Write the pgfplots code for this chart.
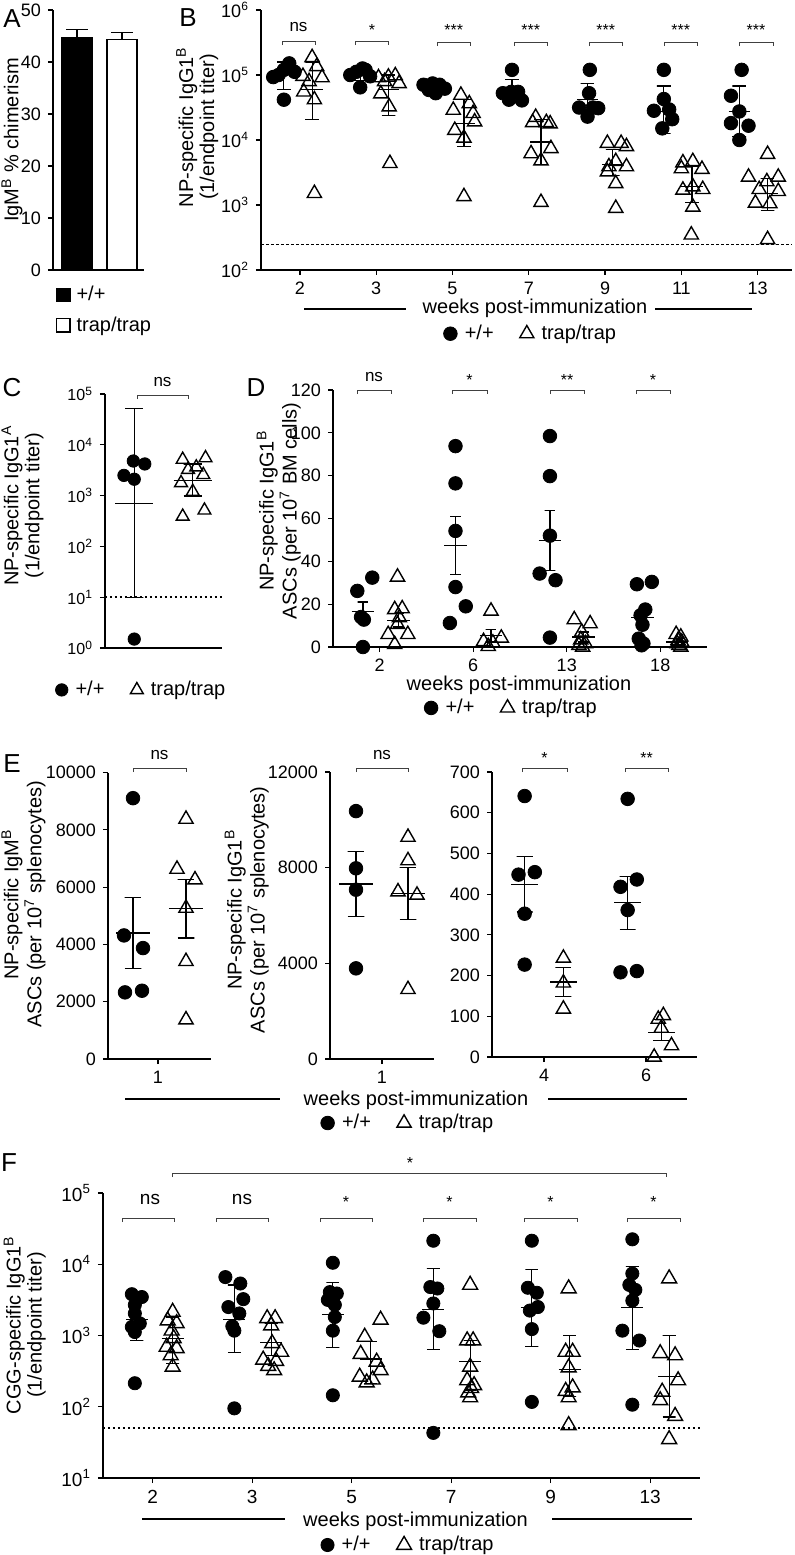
\documentclass[border=0pt]{standalone}
\usepackage{fontspec}
\setmainfont{Liberation Sans}
\usepackage{pgfplots}
\pgfplotsset{compat=1.18}
\newcommand\fs[1]{\fontsize{#1}{#1}\selectfont}
\pgfplotsset{
  panel/.style={scale only axis, anchor=north west, axis x line*=bottom, axis y line*=left,
    tick align=outside, major tick length=2.5pt, minor tick length=0pt,
    tick style={black, line width=0.6pt}, axis line style={black, line width=0.7pt},
    tick label style={font=\fs{9}}, label style={font=\fontsize{10}{10.5}\selectfont},
    ylabel style={align=center, anchor=center},
    /pgf/number format/assume math mode=true, /pgf/number format/1000 sep={},
    scaled ticks=false, clip=false, unbounded coords=jump, legend cell align=left},
  wt/.style={only marks, mark=*, mark size=3.4pt, black, mark options={fill=black}},
  tr/.style={only marks, mark=triangle, mark size=4.1pt, black, mark options={line width=0.7pt, fill=none}},
  eb/.style={black, line width=0.6pt, no marks, forget plot},
  lg/.style={legend columns=2, legend style={draw=none, fill=none, font=\fs{10}, anchor=center,
    /tikz/every odd column/.append style={column sep=1.8pt},
    /tikz/every even column/.append style={column sep=11pt}}},
}
\newcommand\brk[3]{\draw[line width=0.5pt, black!75] (#1,#3+4) -- (#1,#3) -- (#2,#3) -- (#2,#3+4);}
\begin{document}
\begin{tikzpicture}
% ---------------- A
\begin{axis}[panel, at={(26.5pt,-5pt)}, width=45.5pt, height=130pt,
  xmin=0.467, xmax=2.489, ymin=0, ymax=50, ytick={0,10,...,50}, xtick=\empty,
  ylabel={IgM\textsuperscript{B} \% chimerism},
  ylabel style={at={(axis description cs:-0.45,0.5)}},
  legend style={at={(axis description cs:-0.04,-0.03)}, anchor=north west, draw=none, fill=none,
    font=\fs{10}, row sep=2.5pt, /tikz/every odd column/.append style={column sep=1pt}}]
\addplot[ybar, bar width=15pt, bar shift=0pt, fill=black, draw=black, line width=0.6pt,
  legend image code/.code={\draw[black, fill=black, line width=0.6pt] (0pt,-3.3pt) rectangle (6.8pt,3.3pt);}]
  coordinates {(1,44.7)};
\addlegendentry{+/+}
\addplot[ybar, bar width=15pt, bar shift=0pt, fill=white, draw=black, line width=0.6pt,
  legend image code/.code={\draw[black, fill=white, line width=0.6pt] (0pt,-3.3pt) rectangle (6.8pt,3.3pt);}]
  coordinates {(2,44.4)};
\addlegendentry{trap/trap}
\addplot[eb] coordinates {(1,44.7)(1,46.2)(0.76,46.2)(1.24,46.2)(1,nan)(2,44.4)(2,45.6)(1.76,45.6)(2.24,45.6)};
\end{axis}
% ---------------- B
\begin{axis}[panel, ymode=log, at={(130.5pt,-5pt)}, width=265.5pt, height=130pt,
  xmin=-0.51, xmax=6.45, ymin=1e2, ymax=1e6,
  xtick={0,...,6}, xticklabels={2,3,5,7,9,11,13},
  ytick={1e2,1e3,1e4,1e5,1e6},
  yticklabels={10\textsuperscript{2},10\textsuperscript{3},10\textsuperscript{4},10\textsuperscript{5},10\textsuperscript{6}},
  ylabel={NP-specific IgG1\textsuperscript{B}\\(1/endpoint titer)},
  ylabel style={at={(axis description cs:-0.12,0.55)}},
  lg, legend style={at={(axis description cs:0.51,-0.245)}}]
\addplot[wt] coordinates {
(-0.28,100000)(-0.14,151000)(-0.21,120000)(-0.07,112000)(-0.35,93000)(-0.21,41700)
(0.66,100000)(0.74,112000)(0.82,126000)(0.92,95500)(0.79,64600)(0.86,120000)
(1.62,70800)(1.74,74100)(1.83,70800)(1.90,61700)(1.78,52500)(1.69,58900)
(2.78,120000)(2.66,52500)(2.77,55000)(2.86,55000)(2.74,41700)(2.91,40700)
(3.80,120000)(3.79,52500)(3.66,31600)(3.91,30900)(3.77,22900)(3.84,31600)
(4.77,120000)(4.77,42700)(4.64,28200)(4.84,29500)(4.88,20900)(4.75,15100)
(5.79,120000)(5.65,47900)(5.76,27500)(5.65,18200)(5.88,16600)(5.76,10000)};
\addlegendentry{+/+}
\addplot[tr] coordinates {
(0.16,186000)(0.04,95500)(0.29,91200)(0.05,55000)(0.19,41700)(0.22,135000)(0.12,79400)(0.19,1510)
(1.03,91200)(1.16,93300)(1.30,74100)(1.25,97700)(1.06,51300)(1.17,32400)(1.18,4370)(1.11,79400)
(2.11,49000)(2.01,28800)(2.22,36300)(2.27,25700)(2.29,19100)(2.03,14100)(2.15,10700)(2.15,1350)
(3.09,22400)(3.05,18600)(3.23,18600)(3.28,17800)(3.03,6170)(3.29,7410)(3.16,4790)(3.16,1100)
(4.03,8910)(4.21,8910)(4.28,7940)(4.14,4680)(4.05,3890)(4.28,3890)(4.03,3240)(4.14,2140)(4.14,891)
(5.02,4470)(5.15,4680)(5.27,3550)(5.00,3630)(5.02,1700)(5.28,1740)(5.15,1910)(5.15,933)(5.13,347)
(6.13,6030)(5.88,2690)(6.27,2690)(6.12,2290)(6.02,1740)(6.27,1620)(5.97,1070)(6.16,1050)(6.13,295)};
\addlegendentry{trap/trap}
\addplot[eb] coordinates {
(-0.30,60300)(-0.12,60300)(-0.21,60300)(-0.21,158000)(-0.30,158000)(-0.12,158000)(-0.21,nan)(-0.35,112000)(-0.07,112000)(-0.21,nan)
(0.70,83000)(0.88,83000)(0.79,83000)(0.79,120000)(0.70,120000)(0.88,120000)(0.79,nan)(0.65,100000)(0.93,100000)(0.79,nan)
(1.70,52500)(1.88,52500)(1.79,52500)(1.79,75900)(1.70,75900)(1.88,75900)(1.79,nan)(1.65,63100)(1.93,63100)(1.79,nan)
(2.69,39800)(2.87,39800)(2.78,39800)(2.78,85100)(2.69,85100)(2.87,85100)(2.78,nan)(2.64,53700)(2.92,53700)(2.78,nan)
(3.68,28200)(3.86,28200)(3.77,28200)(3.77,74100)(3.68,74100)(3.86,74100)(3.77,nan)(3.63,41700)(3.91,41700)(3.77,nan)
(4.68,12600)(4.86,12600)(4.77,12600)(4.77,67600)(4.68,67600)(4.86,67600)(4.77,nan)(4.63,27500)(4.91,27500)(4.77,nan)
(5.67,11200)(5.85,11200)(5.76,11200)(5.76,67600)(5.67,67600)(5.85,67600)(5.76,nan)(5.62,27500)(5.90,27500)(5.76,nan)
(0.07,20400)(0.25,20400)(0.16,20400)(0.16,158000)(0.07,158000)(0.25,158000)(0.16,nan)(0.02,60300)(0.30,60300)(0.16,nan)
(1.07,24000)(1.25,24000)(1.16,24000)(1.16,100000)(1.07,100000)(1.25,100000)(1.16,nan)(1.02,60300)(1.30,60300)(1.16,nan)
(2.06,7940)(2.24,7940)(2.15,7940)(2.15,41700)(2.06,41700)(2.24,41700)(2.15,nan)(2.01,18200)(2.29,18200)(2.15,nan)
(3.07,4170)(3.25,4170)(3.16,4170)(3.16,20400)(3.07,20400)(3.25,20400)(3.16,nan)(3.02,9330)(3.30,9330)(3.16,nan)
(4.01,2880)(4.19,2880)(4.10,2880)(4.10,7080)(4.01,7080)(4.19,7080)(4.10,nan)(3.96,4170)(4.24,4170)(4.10,nan)
(5.05,1100)(5.23,1100)(5.14,1100)(5.14,3890)(5.05,3890)(5.23,3890)(5.14,nan)(5.00,1910)(5.28,1910)(5.14,nan)
(6.04,832)(6.22,832)(6.13,832)(6.13,2570)(6.04,2570)(6.22,2570)(6.13,nan)(5.99,1510)(6.27,1510)(6.13,nan)};
\addplot[forget plot, black, line width=0.5pt, dash pattern=on 1.5pt off 1pt] coordinates {(-0.51,243)(6.45,243)};
\end{axis}
% ---------------- C
\begin{axis}[panel, ymode=log, at={(52.5pt,-197pt)}, width=58.5pt, height=127pt,
  xmin=0, xmax=1, ymin=1, ymax=1e5, xtick=\empty,
  ytick={1,10,100,1000,10000,100000},
  yticklabels={10\textsuperscript{0},10\textsuperscript{1},10\textsuperscript{2},10\textsuperscript{3},10\textsuperscript{4},10\textsuperscript{5}},
  tick label style={font=\fs{8}},
  ylabel={NP-specific IgG1\textsuperscript{A}\\(1/endpoint titer)},
  ylabel style={at={(axis description cs:-0.705,0.56)}},
  lg, legend style={at={(axis description cs:0.32,-0.165)}}]
\addplot[wt, mark size=3.1pt] coordinates {(0.242,4800)(0.34,4200)(0.162,2500)(0.25,2100)(0.25,1.5)};
\addlegendentry{+/+}
\addplot[tr, mark size=3.7pt] coordinates {(0.664,5130)(0.859,5500)(0.71,3240)(0.78,3630)(0.84,2570)(0.65,1780)(0.75,1200)(0.664,389)(0.85,513)};
\addlegendentry{trap/trap}
\addplot[forget plot, black, line width=1.1pt, dash pattern=on 1.2pt off 1.3pt] coordinates {(0,10)(1,10)};
\addplot[eb] coordinates {
(0.172,9.8)(0.328,9.8)(0.25,9.8)(0.25,51000)(0.172,51000)(0.328,51000)(0.25,nan)(0.086,690)(0.414,690)(0.25,nan)
(0.672,980)(0.828,980)(0.75,980)(0.75,4200)(0.672,4200)(0.828,4200)(0.75,nan)(0.586,2000)(0.914,2000)(0.75,nan)};
\end{axis}
% ---------------- D
\begin{axis}[panel, at={(166.5pt,-195pt)}, width=187pt, height=128.5pt,
  xmin=-0.5, xmax=3.5, ymin=0, ymax=120, ytick={0,20,...,120},
  xtick={0,1,2,3}, xticklabels={2,6,13,18},
  ylabel={NP-specific IgG1\textsuperscript{B}\\ASCs (per 10\textsuperscript{7} BM cells)},
  ylabel style={at={(axis description cs:-0.145,0.53)}},
  lg, legend style={at={(axis description cs:0.48,-0.237)}}]
\addplot[wt] coordinates {
(-0.24,26.2)(-0.08,32.4)(-0.20,14.0)(-0.17,12.8)(-0.18,0)
(0.81,93.8)(0.81,76.4)(0.81,54.2)(0.81,28.0)(0.92,19.0)(0.75,11.2)
(1.82,98.5)(1.82,79.8)(1.82,52.0)(1.71,34.3)(1.88,31.2)(1.82,4.4)
(2.75,29.3)(2.91,30.4)(2.84,17.5)(2.79,14.8)(2.81,10.4)(2.77,3.9)(2.82,1.6)(2.80,0.8)};
\addlegendentry{+/+}
\addplot[tr] coordinates {
(0.19,32.7)(0.16,17.5)(0.24,17.9)(0.19,10.6)(0.09,5.9)(0.30,5.9)(0.16,1.2)(0.21,13.7)
(1.19,16.8)(1.30,4.2)(1.11,2.6)(1.21,1.9)(1.16,0.3)
(2.08,12.8)(2.25,10.9)(2.16,7.0)(2.15,3.4)(2.20,1.6)(2.17,0)(2.13,0.8)
(3.17,5.9)(3.22,4.7)(3.19,3.1)(3.23,2.3)(3.20,0.8)(3.22,0)(3.18,1.6)};
\addlegendentry{trap/trap}
\addplot[eb] coordinates {
(-0.237,12.4)(-0.123,12.4)(-0.18,12.4)(-0.18,21)(-0.237,21)(-0.123,21)(-0.18,nan)(-0.30,16.7)(-0.06,16.7)(-0.18,nan)
(0.753,34)(0.867,34)(0.81,34)(0.81,60.8)(0.753,60.8)(0.867,60.8)(0.81,nan)(0.69,47.4)(0.93,47.4)(0.81,nan)
(1.763,35.8)(1.877,35.8)(1.82,35.8)(1.82,63.9)(1.763,63.9)(1.877,63.9)(1.82,nan)(1.70,49.9)(1.94,49.9)(1.82,nan)
(2.753,9.7)(2.867,9.7)(2.81,9.7)(2.81,17.5)(2.753,17.5)(2.867,17.5)(2.81,nan)(2.69,13.6)(2.93,13.6)(2.81,nan)
(0.143,9.3)(0.257,9.3)(0.20,9.3)(0.20,15.6)(0.143,15.6)(0.257,15.6)(0.20,nan)(0.08,12.5)(0.32,12.5)(0.20,nan)
(1.133,2.3)(1.247,2.3)(1.19,2.3)(1.19,8.3)(1.133,8.3)(1.247,8.3)(1.19,nan)(1.07,5.3)(1.31,5.3)(1.19,nan)
(2.123,2.3)(2.237,2.3)(2.18,2.3)(2.18,7)(2.123,7)(2.237,7)(2.18,nan)(2.06,4.7)(2.30,4.7)(2.18,nan)
(3.123,0.8)(3.237,0.8)(3.18,0.8)(3.18,3.9)(3.123,3.9)(3.237,3.9)(3.18,nan)(3.06,2.3)(3.30,2.3)(3.18,nan)};
\end{axis}
% ---------------- E1
\begin{axis}[panel, at={(54pt,-386.25pt)}, width=51.5pt, height=143.25pt,
  xmin=-0.5, xmax=0.53, ymin=0, ymax=10000, ytick={0,2000,...,10000},
  xtick={0}, xticklabels={1},
  ylabel={NP-specific IgM\textsuperscript{B}\\ASCs (per 10\textsuperscript{7} splenocytes)},
  ylabel style={at={(axis description cs:-0.82,0.54)}}]
\addplot[wt] coordinates {(-0.25,9105)(-0.34,4314)(-0.15,3872)(-0.33,2326)(-0.16,2384)};
\addplot[tr] coordinates {(0.28,8372)(0.19,6628)(0.37,6256)(0.28,5267)(0.28,3407)(0.28,1372)};
\addplot[eb] coordinates {
(-0.333,3151)(-0.167,3151)(-0.25,3151)(-0.25,5640)(-0.333,5640)(-0.167,5640)(-0.25,nan)(-0.42,4395)(-0.08,4395)(-0.25,nan)
(0.197,4221)(0.363,4221)(0.28,4221)(0.28,6279)(0.197,6279)(0.363,6279)(0.28,nan)(0.11,5267)(0.45,5267)(0.28,nan)};
\end{axis}
% ---------------- E2
\begin{axis}[panel, at={(165pt,-386pt)}, width=52pt, height=143.5pt,
  xmin=-0.52, xmax=0.52, ymin=0, ymax=12000, ytick={0,4000,8000,12000},
  xtick={0}, xticklabels={1},
  ylabel={NP-specific IgG1\textsuperscript{B}\\ASCs (per 10\textsuperscript{7} splenocytes)},
  ylabel style={at={(axis description cs:-0.80,0.52)}},
  lg, legend style={at={(axis description cs:0.76,-0.223)}}]
\addplot[wt] coordinates {(-0.26,10366)(-0.26,7974)(-0.26,7079)(-0.26,3791)};
\addlegendentry{+/+}
\addplot[tr] coordinates {(0.26,9275)(0.26,8296)(0.16,6995)(0.35,6855)(0.26,2910)};
\addlegendentry{trap/trap}
\addplot[eb] coordinates {
(-0.343,5960)(-0.177,5960)(-0.26,5960)(-0.26,8674)(-0.343,8674)(-0.177,8674)(-0.26,nan)(-0.43,7317)(-0.09,7317)(-0.26,nan)
(0.177,5820)(0.343,5820)(0.26,5820)(0.26,8016)(0.177,8016)(0.343,8016)(0.26,nan)(0.09,6925)(0.43,6925)(0.26,nan)};
\end{axis}
% ---------------- E3
\begin{axis}[panel, at={(246pt,-386pt)}, width=102.5pt, height=142.5pt,
  xmin=-0.51, xmax=1.5, ymin=0, ymax=700, ytick={0,100,...,700},
  xtick={0,1}, xticklabels={4,6}]
\addplot[wt] coordinates {(-0.19,641)(-0.25,448)(-0.09,454)(-0.19,352)(-0.19,227)
(0.82,634)(0.75,418)(0.91,436)(0.82,361)(0.75,208)(0.91,211)};
\addplot[tr] coordinates {(0.19,243)(0.19,182)(0.19,118)(1.17,102)(1.12,93)(1.15,71)(1.25,28)(1.08,0)};
\addplot[eb] coordinates {
(-0.268,356)(-0.112,356)(-0.19,356)(-0.19,492)(-0.268,492)(-0.112,492)(-0.19,nan)(-0.32,424)(-0.06,424)(-0.19,nan)
(0.742,313)(0.898,313)(0.82,313)(0.82,443)(0.742,443)(0.898,443)(0.82,nan)(0.69,379)(0.95,379)(0.82,nan)
(0.112,148)(0.268,148)(0.19,148)(0.19,219)(0.112,219)(0.268,219)(0.19,nan)(0.06,184)(0.32,184)(0.19,nan)
(1.072,40)(1.228,40)(1.15,40)(1.15,92)(1.072,92)(1.228,92)(1.15,nan)(1.02,61)(1.28,61)(1.15,nan)};
\end{axis}
% ---------------- F
\begin{axis}[panel, ymode=log, at={(51.5pt,-596.5pt)}, width=298.5pt, height=142.5pt,
  xmin=-0.5, xmax=5.5, ymin=10, ymax=1e5,
  xtick={0,...,5}, xticklabels={2,3,5,7,9,13},
  ytick={10,100,1000,10000,100000},
  yticklabels={10\textsuperscript{1},10\textsuperscript{2},10\textsuperscript{3},10\textsuperscript{4},10\textsuperscript{5}},
  tick label style={font=\fs{9.5}},
  ylabel={CGG-specific IgG1\textsuperscript{B}\\(1/endpoint titer)},
  ylabel style={at={(axis description cs:-0.131,0.537)}},
  lg, legend style={at={(axis description cs:0.513,-0.235)}}]
\addplot[wt, mark size=3.3pt] coordinates {
(-0.21,3800)(-0.11,3470)(-0.18,2690)(-0.18,2040)(-0.13,1480)(-0.21,1320)(-0.18,1120)(-0.18,214)
(0.73,6610)(0.88,5370)(0.91,3240)(0.76,2510)(0.87,2040)(0.80,1350)(0.82,1170)(0.82,95)
(1.81,10500)(1.78,4070)(1.85,3890)(1.76,3160)(1.83,2690)(1.83,1820)(1.81,1170)(1.81,145)
(2.82,21400)(2.79,4790)(2.86,4570)(2.82,2820)(2.72,1780)(2.88,1150)(2.82,43)
(3.81,21400)(3.77,4680)(3.86,3980)(3.79,2240)(3.87,2510)(3.81,1230)(3.81,117)
(4.82,22400)(4.82,7410)(4.79,5130)(4.85,4370)(4.82,3090)(4.72,1170)(4.89,851)(4.82,107)};
\addlegendentry{+/+}
\addplot[tr, mark size=4.3pt] coordinates {
(0.20,2140)(0.15,1620)(0.24,1480)(0.19,1170)(0.21,912)(0.14,692)(0.24,661)(0.18,525)(0.20,363)
(1.15,1740)(1.23,1740)(1.19,1380)(1.20,776)(1.29,589)(1.11,457)(1.24,437)(1.16,372)(1.22,324)
(2.13,955)(2.29,1660)(2.09,550)(2.25,427)(2.29,324)(2.08,263)(2.21,240)(2.15,219)
(3.19,5130)(3.16,851)(3.22,851)(3.19,363)(3.16,234)(3.23,200)(3.20,182)(3.17,158)(3.19,135)
(4.18,4570)(4.15,589)(4.22,589)(4.18,355)(4.22,186)(4.15,166)(4.18,135)(4.18,55)
(5.19,6310)(5.10,562)(5.25,525)(5.28,234)(5.12,162)(5.10,123)(5.25,74)(5.19,35)};
\addlegendentry{trap/trap}
\addplot[forget plot, black, line width=1.1pt, dash pattern=on 1.2pt off 1.3pt] coordinates {(-0.5,50)(5.5,50)};
\addplot[eb] coordinates {
(-0.225,850)(-0.095,850)(-0.16,850)(-0.16,3200)(-0.225,3200)(-0.095,3200)(-0.16,nan)(-0.27,1660)(-0.05,1660)(-0.16,nan)
(0.755,575)(0.885,575)(0.82,575)(0.82,5130)(0.755,5130)(0.885,5130)(0.82,nan)(0.71,1700)(0.93,1700)(0.82,nan)
(1.745,676)(1.875,676)(1.81,676)(1.81,5500)(1.745,5500)(1.875,5500)(1.81,nan)(1.70,1950)(1.92,1950)(1.81,nan)
(2.755,630)(2.885,630)(2.82,630)(2.82,8710)(2.755,8710)(2.885,8710)(2.82,nan)(2.71,2290)(2.93,2290)(2.82,nan)
(3.745,708)(3.875,708)(3.81,708)(3.81,8510)(3.745,8510)(3.875,8510)(3.81,nan)(3.70,2450)(3.92,2450)(3.81,nan)
(4.755,631)(4.885,631)(4.82,631)(4.82,9330)(4.755,9330)(4.885,9330)(4.82,nan)(4.71,2450)(4.93,2450)(4.82,nan)
(0.135,407)(0.265,407)(0.20,407)(0.20,1820)(0.135,1820)(0.265,1820)(0.20,nan)(0.09,910)(0.31,910)(0.20,nan)
(1.125,525)(1.255,525)(1.19,525)(1.19,1480)(1.125,1480)(1.255,1480)(1.19,nan)(1.08,794)(1.30,794)(1.19,nan)
(2.125,214)(2.255,214)(2.19,214)(2.19,832)(2.125,832)(2.255,832)(2.19,nan)(2.08,468)(2.30,468)(2.19,nan)
(3.125,170)(3.255,170)(3.19,170)(3.19,851)(3.125,851)(3.255,851)(3.19,nan)(3.08,437)(3.30,437)(3.19,nan)
(4.125,138)(4.255,138)(4.19,138)(4.19,1000)(4.125,1000)(4.255,1000)(4.19,nan)(4.08,331)(4.30,331)(4.19,nan)
(5.125,72)(5.255,72)(5.19,72)(5.19,1000)(5.125,1000)(5.255,1000)(5.19,nan)(5.08,269)(5.30,269)(5.19,nan)};
\end{axis}
% ---------------- decorations (pixel units)
\begin{scope}[x=0.5pt, y=-0.5pt]
\node[font=\fs{13}] at (12,19) {A};
\node[font=\fs{13}] at (188,18) {B};
\node[font=\fs{13}] at (12,388) {C};
\node[font=\fs{13}] at (256,388) {D};
\node[font=\fs{13}] at (12,764) {E};
\node[font=\fs{13}] at (9,1163) {F};
% B
\brk{282}{315}{41}\brk{355.5}{388.5}{41}\brk{437}{470.5}{42}\brk{514}{547.5}{42}\brk{589}{622.5}{42}\brk{664}{697.5}{42}\brk{739}{773}{42}
\node[font=\fs{8.5}] at (298.5,27) {ns};
\node[font=\fs{8}] at (372,30) {*};
\foreach \x in {453.7,530.7,605.8,680.8,756} {\node[font=\fs{8}] at (\x,30) {***};}
\node[font=\fs{10}] at (535,308) {weeks post-immunization};
\draw[line width=1.3pt] (304,309)--(406,309) (655,309)--(752,309);
% C
\brk{137}{188}{395}
\node[font=\fs{8.5}] at (162.5,382) {ns};
% D
\brk{357}{391}{390}\brk{452}{487}{390}\brk{550}{584}{390}\brk{636}{670}{390}
\node[font=\fs{8.5}] at (374,377) {ns};
\node[font=\fs{8}] at (469.5,380) {*};
\node[font=\fs{8}] at (567,380) {**};
\node[font=\fs{8}] at (653,380) {*};
\node[font=\fs{10}] at (519,685) {weeks post-immunization};
% E
\brk{133}{186}{768}\brk{356}{408}{768}\brk{522}{567}{768}\brk{625}{668}{768}
\node[font=\fs{8.5}] at (159.5,755) {ns};
\node[font=\fs{8.5}] at (382,755) {ns};
\node[font=\fs{8}] at (544.5,758) {*};
\node[font=\fs{8}] at (646.5,758) {**};
\node[font=\fs{10}] at (416,1100) {weeks post-immunization};
\draw[line width=1.3pt] (125,1099)--(280,1099) (548,1099)--(687,1099);
% F
\draw[line width=0.5pt, black!75] (172,1177)--(172,1173)--(666,1173)--(666,1177);
\node[font=\fs{8}] at (410,1163) {*};
\brk{122}{174}{1218}\brk{216}{268}{1218}\brk{320}{372}{1218}\brk{423}{476}{1218}\brk{524}{577}{1218}\brk{627}{680}{1218}
\node[font=\fs{9.5}] at (150,1199) {ns};
\node[font=\fs{9.5}] at (242,1199) {ns};
\foreach \x in {346,449.5,550.5,653.5} {\node[font=\fs{8}] at (\x,1202) {*};}
\node[font=\fs{10}] at (415.5,1521) {weeks post-immunization};
\draw[line width=1.3pt] (142,1519)--(285,1519) (552,1519)--(692,1519);
\end{scope}
\pgfresetboundingbox
\useasboundingbox (0,0) rectangle (397.5pt,-777.5pt);
\end{tikzpicture}
\end{document}
